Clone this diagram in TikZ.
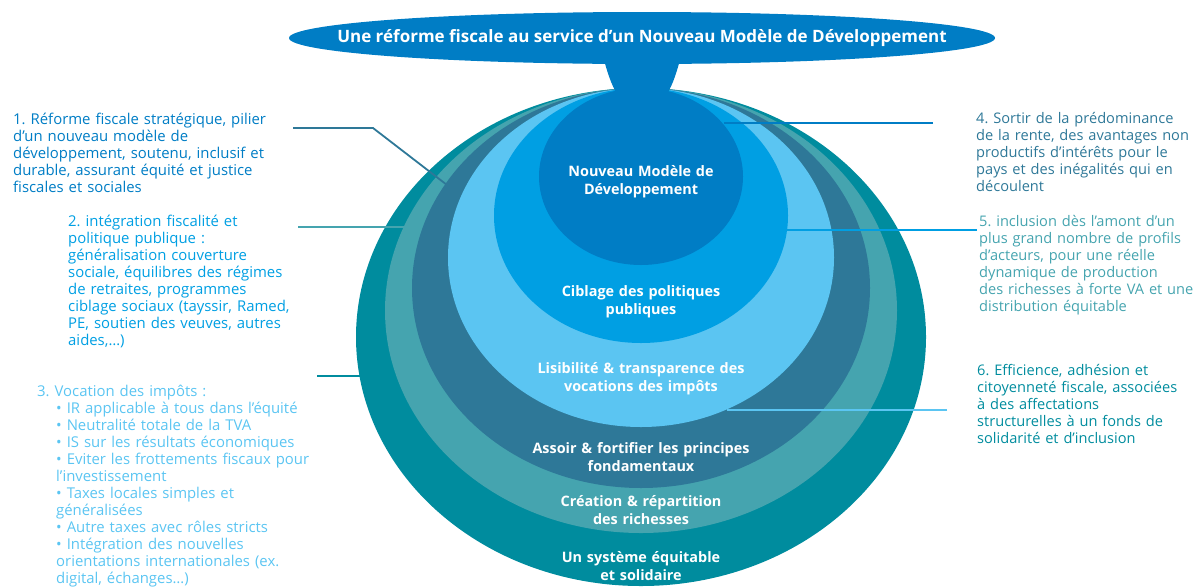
\documentclass[tikz,border=0pt]{standalone}
\usepackage{fontspec}
\setmainfont{Open Sans}
\usetikzlibrary{positioning}
\definecolor{reformblue}{RGB}{0,125,197}
\definecolor{reformsky}{RGB}{0,159,227}
\definecolor{reformlight}{RGB}{91,197,242}
\definecolor{reformsteel}{RGB}{46,120,152}
\definecolor{reformsea}{RGB}{69,164,175}
\definecolor{reformteal}{RGB}{0,140,158}
\tikzset{
  sidetext/.style={anchor=base west,inner sep=0pt,text width=340pt,align=left,
    font=\fontsize{#1}{17}\selectfont},
  sidetext/.default=14.6,
  ringlabel/.style={anchor=base,inner sep=0pt,text width=280pt,align=center,
    text=white,font=\bfseries\fontsize{14.4}{18}\selectfont},
  leader/.style={line width=1.8pt},
}
\newcommand{\ind}{\hspace*{19pt}}
\frenchspacing

\begin{document}
\begin{tikzpicture}[x=1pt,y=-1pt]
\useasboundingbox (0,0) rectangle (1196,587);
% rings, outermost first, all touching at the top
\foreach \ry/\rx/\col in {249/285/reformteal,222.5/256/reformsea,200/229/reformsteel,
  169.5/193/reformlight,127.5/147/reformsky,88.5/102/reformblue}{
  \fill[\col] (641,{88+\ry}) ellipse [x radius=\rx pt,y radius=\ry pt];
}
% title cap and its stem
\fill[reformblue] (602,52) .. controls (607,72) and (611,84) .. (617,94)
  -- (667,94) .. controls (673,84) and (677,72) .. (682,52) -- cycle;
\fill[reformblue] (642,38) ellipse [x radius=353pt,y radius=26pt];
\node[text=white,font=\bfseries\fontsize{17}{20}\selectfont] (title) at (642,38)
  {Une réforme fiscale au service d’un Nouveau Modèle de Développement};

\node[ringlabel] (core) at (641,176.5) {Nouveau Modèle de\\Développement};
\node[ringlabel] (cible) at (641,296.5) {Ciblage des politiques\\publiques};
\node[ringlabel] (lisib) at (641,373) {Lisibilité \& transparence des\\vocations des impôts};
\node[ringlabel] (assoir) at (641,453) {Assoir \& fortifier les principes\\fondamentaux};
\node[ringlabel] (creation) at (641,506.5) {Création \& répartition\\des richesses};
\node[ringlabel] (systeme) at (641,562.5) {Un système équitable\\et solidaire};

\node[sidetext=14.9,text=reformblue] (t1) at (13,124.3) {1. Réforme fiscale stratégique, pilier\\
  d’un nouveau modèle de\\développement, soutenu, inclusif et\\
  durable, assurant équité et justice\\fiscales et sociales};
\node[sidetext=14.9,text=reformsky] (t2) at (68,226.7) {2. intégration fiscalité et\\
  politique publique :\\généralisation couverture\\sociale, équilibres des régimes\\
  de retraites, programmes\\ciblage sociaux (tayssir, Ramed,\\
  PE, soutien des veuves, autres\\aides,…)};
\node[sidetext=14.9,text=reformlight] (t3) at (37,396.7) {3. Vocation des impôts :\\
  \ind• IR applicable à tous dans l’équité\\\ind• Neutralité totale de la TVA\\
  \ind• IS sur les résultats économiques\\\ind• Eviter les frottements fiscaux pour\\
  \ind l’investissement\\\ind• Taxes locales simples et\\\ind généralisées\\
  \ind• Autre taxes avec rôles stricts\\\ind• Intégration des nouvelles\\
  \ind orientations internationales (ex.\\\ind digital, échanges…)};
\node[sidetext,text=reformsteel] (t4) at (976,123) {4. Sortir de la prédominance\\
  de la rente, des avantages non\\productifs d’intérêts pour le\\
  pays et des inégalités qui en\\découlent};
\node[sidetext,text=reformsea] (t5) at (979,226) {5. inclusion dès l’amont d’un\\
  plus grand nombre de profils\\d’acteurs, pour une réelle\\
  dynamique de production\\des richesses à forte VA et une\\distribution équitable};
\node[sidetext,text=reformteal] (t6) at (977,375) {6. Efficience, adhésion et\\
  citoyenneté fiscale, associées\\à des affectations\\
  structurelles à un fonds de\\solidarité et d’inclusion};

% leader lines from the texts to the rings
\coordinate (a1) at (293,128); \coordinate (k1) at (373,128); \coordinate (b1) at (447,185);
\coordinate (a2) at (298,227); \coordinate (b2) at (410,227);
\coordinate (a3) at (317,376); \coordinate (b3) at (361,376);
\coordinate (a4) at (933,123); \coordinate (b4) at (724,123);
\coordinate (a5) at (977,230); \coordinate (b5) at (786,230);
\coordinate (a6) at (947,410); \coordinate (b6) at (727,410);
\draw[leader,reformsteel] (a1) -- (k1) -- (b1);
\draw[leader,reformsea] (a2) -- (b2);
\draw[leader,reformteal] (a3) -- (b3);
\draw[leader,reformblue] (a4) -- (b4);
\draw[leader,reformsky] (a5) -- (b5);
\draw[leader,reformlight] (a6) -- (b6);
\end{tikzpicture}
\end{document}
